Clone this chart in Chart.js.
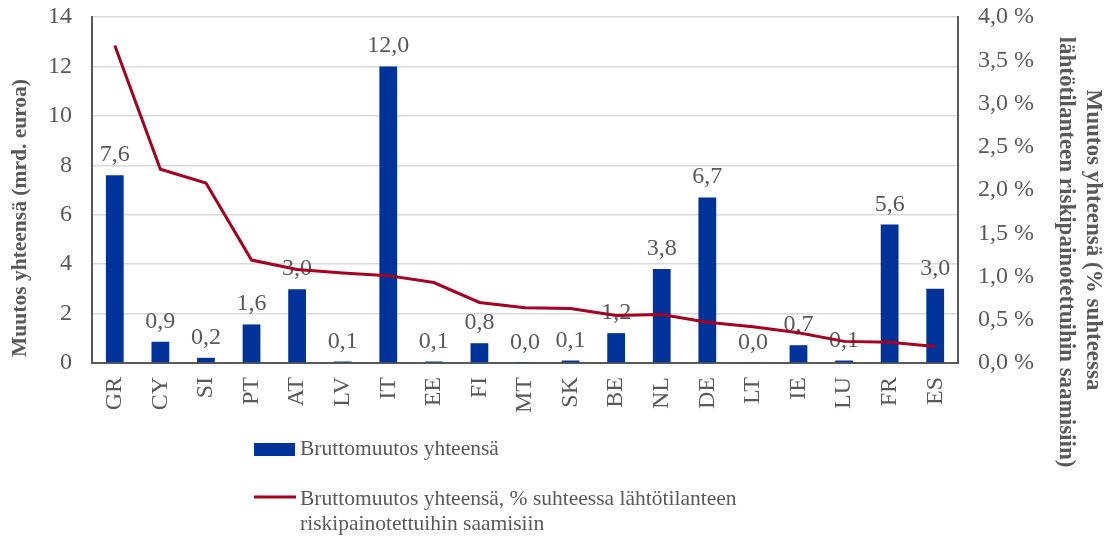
<!DOCTYPE html>
<html>
<head>
<meta charset="utf-8">
<script src="https://cdn.jsdelivr.net/npm/chart.js@4/dist/chart.umd.min.js"></script>
<style>
  html, body { margin: 0; padding: 0; background: #fff; }
  #wrap { position: relative; width: 1110px; height: 541px; }
</style>
</head>
<body>
<div id="wrap"><canvas id="kaavio" width="1110" height="541"></canvas></div>
<script>
// maat ja arvot
const maat = ['GR', 'CY', 'SI', 'PT', 'AT', 'LV', 'IT', 'EE', 'FI', 'MT', 'SK', 'BE', 'NL', 'DE', 'LT', 'IE', 'LU', 'FR', 'ES'];
const bruttomuutos = [7.6, 0.86, 0.21, 1.56, 2.98, 0.06, 12.0, 0.06, 0.8, 0.02, 0.1, 1.21, 3.8, 6.7, 0.02, 0.72, 0.1, 5.6, 3.0];
const prosenttia = [3.67, 2.24, 2.08, 1.19, 1.08, 1.04, 1.01, 0.93, 0.70, 0.64, 0.63, 0.55, 0.56, 0.47, 0.42, 0.35, 0.25, 0.24, 0.19];
const vasenTicks = [0, 2, 4, 6, 8, 10, 12, 14];
const oikeaTicks = [0, 0.5, 1, 1.5, 2, 2.5, 3, 3.5, 4];

const serif = '"Liberation Serif", "Times New Roman", serif';
const harmaa = '#595959';
const sininen = '#003399';
const punainen = '#A50021';

const pilkku = (v, d) => v.toFixed(d).replace('.', ',');

// arvot palkkien päälle (ennen viivaa, jotta viiva jää päälle)
const arvoPlugin = {
  id: 'arvot',
  afterDatasetDraw(chart, args) {
    if (args.index !== 1) return;
    const ctx = chart.ctx;
    ctx.save();
    ctx.font = '24px ' + serif;
    ctx.fillStyle = harmaa;
    ctx.textAlign = 'center';
    ctx.textBaseline = 'alphabetic';
    args.meta.data.forEach((bar, i) => {
      ctx.fillText(pilkku(bruttomuutos[i], 1), bar.x, bar.y - 14);
    });
    ctx.restore();
  }
};

// akselien otsikot ja selite
const tekstiPlugin = {
  id: 'tekstit',
  afterDraw(chart) {
    const ctx = chart.ctx;
    ctx.save();
    ctx.fillStyle = harmaa;
    ctx.font = 'bold 21.5px ' + serif;
    ctx.textAlign = 'center';
    ctx.textBaseline = 'middle';

    ctx.save();
    ctx.translate(20, 218);
    ctx.rotate(-Math.PI / 2);
    ctx.fillText('Muutos yhteensä (mrd. euroa)', 0, 0);
    ctx.restore();

    ctx.font = 'bold 23px ' + serif;
    ctx.save();
    ctx.translate(1093, 240);
    ctx.rotate(Math.PI / 2);
    ctx.fillText('Muutos yhteensä (% suhteessa', 0, 0);
    ctx.restore();
    ctx.save();
    ctx.translate(1066, 252);
    ctx.rotate(Math.PI / 2);
    ctx.fillText('lähtötilanteen riskipainotettuihin saamisiin)', 0, 0);
    ctx.restore();

    // selite
    ctx.font = '21.5px ' + serif;
    ctx.textAlign = 'left';
    ctx.textBaseline = 'alphabetic';
    ctx.fillStyle = sininen;
    ctx.fillRect(254, 443, 41, 13);
    ctx.fillStyle = harmaa;
    ctx.fillText('Bruttomuutos yhteensä', 300, 455);

    ctx.strokeStyle = punainen;
    ctx.lineWidth = 3;
    ctx.beginPath();
    ctx.moveTo(254, 497);
    ctx.lineTo(296, 497);
    ctx.stroke();
    ctx.fillText('Bruttomuutos yhteensä, % suhteessa lähtötilanteen', 300, 505);
    ctx.fillText('riskipainotettuihin saamisiin', 300, 530);
    ctx.restore();
  }
};

function eiPystyPaddingia(scale) {
  scale.paddingTop = 0;
  scale.paddingBottom = 0;
}

const ctx = document.getElementById('kaavio').getContext('2d');
const kaavio = new Chart(ctx, {
  data: {
    labels: maat,
    datasets: [
      {
        type: 'line',
        label: 'Bruttomuutos yhteensä, % suhteessa lähtötilanteen riskipainotettuihin saamisiin',
        data: prosenttia,
        yAxisID: 'y1',
        borderColor: punainen,
        backgroundColor: punainen,
        borderWidth: 3,
        pointRadius: 0,
        tension: 0,
        order: 0
      },
      {
        type: 'bar',
        label: 'Bruttomuutos yhteensä',
        data: bruttomuutos,
        yAxisID: 'y',
        backgroundColor: sininen,
        barPercentage: 0.39,
        categoryPercentage: 1,
        order: 1
      }
    ]
  },
  options: {
    responsive: false,
    animation: false,
    layout: { padding: { top: 17, left: 0, right: 0, bottom: 0 } },
    plugins: {
      legend: { display: false },
      tooltip: { enabled: false }
    },
    scales: {
      x: {
        grid: { display: false, drawTicks: false },
        border: { display: true, color: harmaa, width: 2 },
        ticks: {
          color: harmaa,
          font: { family: serif, size: 24 },
          minRotation: 90,
          maxRotation: 90,
          padding: 14,
          autoSkip: false
        },
        afterFit(scale) { scale.height = 178; }
      },
      y: {
        position: 'left',
        min: 0,
        max: 14,
        afterBuildTicks(scale) { scale.ticks = vasenTicks.map(v => ({ value: v })); },
        grid: { color: '#d9d9d9', lineWidth: 1.5, drawTicks: false },
        border: { display: true, color: harmaa, width: 2 },
        ticks: {
          color: harmaa,
          font: { family: serif, size: 24 },
          padding: 20
        },
        afterFit(scale) { scale.width = 92; eiPystyPaddingia(scale); }
      },
      y1: {
        position: 'right',
        min: 0,
        max: 4,
        afterBuildTicks(scale) { scale.ticks = oikeaTicks.map(v => ({ value: v })); },
        grid: { display: false, drawTicks: false },
        border: { display: true, color: harmaa, width: 2 },
        ticks: {
          color: harmaa,
          font: { family: serif, size: 24 },
          padding: 20,
          callback: v => pilkku(v, 1) + ' %'
        },
        afterFit(scale) { scale.width = 152; eiPystyPaddingia(scale); }
      }
    }
  },
  plugins: [arvoPlugin, tekstiPlugin]
});
</script>
</body>
</html>
